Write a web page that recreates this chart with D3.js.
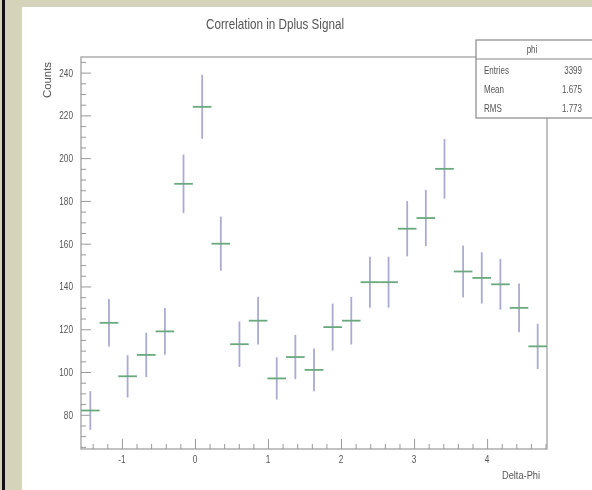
<!DOCTYPE html>
<html lang="en">
<head>
<meta charset="UTF-8">
<title>Correlation in Dplus Signal</title>
<style>
  body { margin: 0; background: #d6d3bb; }
  svg { display: block; }
  text { font-family: "Liberation Sans", Arial, sans-serif; fill: #555; }
</style>
</head>
<body>
<script src="https://d3js.org/d3.v7.min.js"></script>
<script>
  // histogram "phi": 25 bins, bin contents (errors = sqrt(N))
  const binCounts = [82, 123, 98, 108, 119, 188, 224, 160, 113, 124, 97, 107, 101,
                     121, 124, 142, 142, 167, 172, 195, 147, 144, 141, 130, 112];
  const xRange = [-1.56, 4.82];
  const xTicks = [-1, 0, 1, 2, 3, 4];
  const yTicks = [80, 100, 120, 140, 160, 180, 200, 220, 240];
  const statNames = ['Entries', 'Mean', 'RMS'];
  const statValues = ['3399', '1.675', '1.773'];

  const width = 592, height = 490;
  const frame = { left: 81, right: 547, top: 57, bottom: 449 };

  const svg = d3.select('body').append('svg')
    .attr('width', width).attr('height', height);

  // soft blur like the photographed screen
  svg.append('defs').append('filter').attr('id', 'soft')
    .append('feGaussianBlur').attr('stdDeviation', 0.55);

  // textured border + canvas
  svg.append('rect').attr('width', width).attr('height', height).attr('fill', '#d6d3bb');
  svg.append('rect').attr('x', 2).attr('y', 0).attr('width', 3).attr('height', height).attr('fill', '#111');
  svg.append('rect').attr('x', 22).attr('y', 7).attr('width', width - 22).attr('height', height - 7).attr('fill', '#fff');

  const plot = svg.append('g').attr('filter', 'url(#soft)');

  const x = d3.scaleLinear().domain(xRange).range([frame.left, frame.right]);
  const y = d3.scaleLinear().domain([64, 247.3]).range([frame.bottom, frame.top]);
  const binW = (xRange[1] - xRange[0]) / binCounts.length;

  // narrow text helper
  const narrow = (g, tx, ty, str, size, anchor, sx) => g.append('text')
    .attr('transform', `translate(${tx},${ty}) scale(${sx},1)`)
    .attr('text-anchor', anchor).attr('font-size', size).text(str);

  // frame
  plot.append('rect')
    .attr('x', frame.left).attr('y', frame.top)
    .attr('width', frame.right - frame.left).attr('height', frame.bottom - frame.top)
    .attr('fill', 'none').attr('stroke', '#999').attr('stroke-width', 1.2);

  // axes (major + minor ticks)
  const yMinor = d3.range(65, 247, 5).filter(v => v % 20 !== 0);
  const xMinor = d3.range(-1.4, 4.82, 0.2).filter(v => Math.abs(v - Math.round(v)) > 0.01);

  plot.append('g').attr('transform', `translate(${frame.left},0)`)
    .call(d3.axisRight(y).tickValues(yTicks).tickSize(10).tickFormat(''))
    .call(g => g.select('.domain').remove())
    .selectAll('line').attr('stroke', '#999');
  plot.append('g').attr('transform', `translate(${frame.left},0)`)
    .call(d3.axisRight(y).tickValues(yMinor).tickSize(5).tickFormat(''))
    .call(g => g.select('.domain').remove())
    .selectAll('line').attr('stroke', '#999');

  plot.append('g').attr('transform', `translate(0,${frame.bottom})`)
    .call(d3.axisTop(x).tickValues(xTicks).tickSize(10).tickFormat(''))
    .call(g => g.select('.domain').remove())
    .selectAll('line').attr('stroke', '#999');
  plot.append('g').attr('transform', `translate(0,${frame.bottom})`)
    .call(d3.axisTop(x).tickValues(xMinor).tickSize(5).tickFormat(''))
    .call(g => g.select('.domain').remove())
    .selectAll('line').attr('stroke', '#999');

  // tick labels
  const labels = plot.append('g');
  yTicks.forEach(t => narrow(labels, frame.left - 8, y(t) + 4, t, 11, 'end', 0.75));
  xTicks.forEach(t => narrow(labels, x(t), frame.bottom + 14, t, 11, 'middle', 0.75));

  // axis titles
  plot.append('text').attr('transform', `translate(51,62) rotate(-90)`)
    .attr('text-anchor', 'end').attr('font-size', 10)
    .attr('textLength', 36).attr('lengthAdjust', 'spacingAndGlyphs').text('Counts');
  plot.append('text').attr('x', 540).attr('y', 479)
    .attr('text-anchor', 'end').attr('font-size', 10)
    .attr('textLength', 38).attr('lengthAdjust', 'spacingAndGlyphs').text('Delta-Phi');

  // title
  plot.append('text').attr('x', 275).attr('y', 29)
    .attr('text-anchor', 'middle').attr('font-size', 15).attr('fill', '#3a3a3a')
    .attr('textLength', 138).attr('lengthAdjust', 'spacingAndGlyphs')
    .text('Correlation in Dplus Signal');

  // data points with error bars
  const pts = plot.append('g');
  binCounts.forEach((n, i) => {
    const cx = xRange[0] + (i + 0.5) * binW;
    const err = Math.sqrt(n);
    const lo = Math.max(y.domain()[0], n - err);
    pts.append('line')
      .attr('x1', x(cx)).attr('x2', x(cx))
      .attr('y1', y(lo)).attr('y2', y(n + err))
      .attr('stroke', '#a9abd4').attr('stroke-width', 1.8);
    pts.append('line')
      .attr('x1', x(cx - binW / 2)).attr('x2', x(cx + binW / 2))
      .attr('y1', y(n)).attr('y2', y(n))
      .attr('stroke', '#6aa97e').attr('stroke-width', 1.8);
  });

  // stats box
  const box = plot.append('g').attr('transform', 'translate(476,40)');
  box.append('rect').attr('width', 118).attr('height', 78)
    .attr('fill', '#fff').attr('stroke', '#888').attr('stroke-width', 1.2);
  box.append('line').attr('x1', 0).attr('x2', 118).attr('y1', 19).attr('y2', 19)
    .attr('stroke', '#888').attr('stroke-width', 1.2);
  narrow(box, 56, 13, 'phi', 10, 'middle', 0.8);
  statNames.forEach((s, i) => {
    narrow(box, 8, 34 + i * 19, s, 10, 'start', 0.8);
    narrow(box, 106, 34 + i * 19, statValues[i], 10, 'end', 0.8);
  });
</script>
</body>
</html>
